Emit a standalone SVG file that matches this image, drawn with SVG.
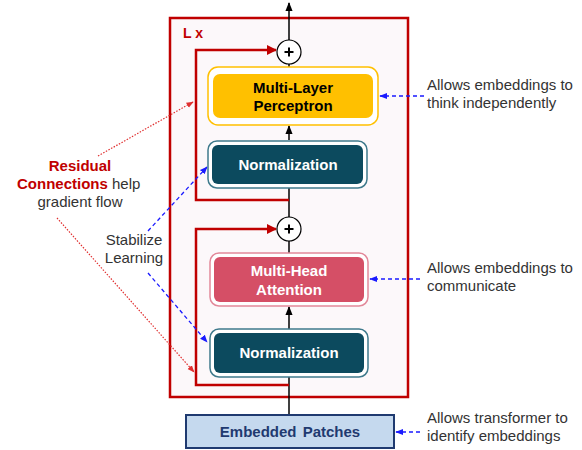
<svg xmlns="http://www.w3.org/2000/svg" width="582" height="450" viewBox="0 0 582 450">
<defs>
<style>
.lbl{font-family:"Liberation Sans",Arial,sans-serif;font-size:15px;}
.b{font-weight:bold;text-anchor:middle;}
.desc{fill:#333333;}
.flow{stroke:#000;stroke-width:1.5;fill:none;}
.res{stroke:#c00000;stroke-width:2.5;fill:none;}
.blue{stroke:#1a1aff;stroke-width:1.3;stroke-dasharray:4 3;fill:none;}
.reddot{stroke:#e03030;stroke-width:1.2;stroke-dasharray:1.5 1.5;fill:none;}
</style>
<marker id="ab" viewBox="0 0 10 10" refX="9" refY="5" markerWidth="6" markerHeight="6" orient="auto"><path d="M0,1 L10,5 L0,9 z" fill="#000"/></marker>
<marker id="ar" viewBox="0 0 10 10" refX="9" refY="5" markerWidth="4" markerHeight="4" orient="auto"><path d="M0,0 L10,5 L0,10 z" fill="#c00000"/></marker>
<marker id="abl" viewBox="0 0 10 10" refX="9" refY="5" markerWidth="6" markerHeight="6" orient="auto"><path d="M0,1 L10,5 L0,9 z" fill="#1a1aff"/></marker>
<marker id="ard" viewBox="0 0 10 10" refX="9" refY="5" markerWidth="6" markerHeight="6" orient="auto"><path d="M0,1 L10,5 L0,9 z" fill="#e03030"/></marker>
</defs>

<g id="block">
<rect x="170" y="18" width="238" height="379" fill="#fcf8fa" stroke="#c00000" stroke-width="2.5"/>
<text x="183" y="38" class="lbl" style="font-weight:bold;fill:#c00000;font-size:14px">L x</text>
</g>

<g id="connectors">
<line x1="289" y1="415" x2="289" y2="377" class="flow"/>
<line x1="289" y1="329" x2="289" y2="307" class="flow" marker-end="url(#ab)"/>
<line x1="289" y1="253" x2="289" y2="241" class="flow"/>
<line x1="289" y1="217" x2="289" y2="188" class="flow"/>
<line x1="289" y1="140" x2="289" y2="126" class="flow" marker-end="url(#ab)"/>
<line x1="289" y1="67" x2="289" y2="64" class="flow"/>
<line x1="289" y1="40" x2="289" y2="3" class="flow" marker-end="url(#ab)"/>
<path d="M289,200 H196 V50 H276" class="res" marker-end="url(#ar)"/>
<path d="M289,385 H196 V229 H276" class="res" marker-end="url(#ar)"/>
<line x1="424" y1="96" x2="380" y2="96" class="blue" marker-end="url(#abl)"/>
<line x1="420" y1="279" x2="370" y2="279" class="blue" marker-end="url(#abl)"/>
<line x1="420" y1="432" x2="396" y2="432" class="blue" marker-end="url(#abl)"/>
<line x1="148" y1="231" x2="207" y2="167" class="blue" marker-end="url(#abl)"/>
<line x1="148" y1="273" x2="207" y2="342" class="blue" marker-end="url(#abl)"/>
<line x1="98" y1="156" x2="193" y2="102" class="reddot" marker-end="url(#ard)"/>
<line x1="57" y1="218" x2="194" y2="372" class="reddot" marker-end="url(#ard)"/>
</g>

<g id="add1">
<circle cx="289" cy="52" r="12" fill="#fff" stroke="#000" stroke-width="1.2"/>
<path d="M284.5,52 H293.5 M289,47.5 V56.5" stroke="#000" stroke-width="2"/>
</g>
<g id="add2">
<circle cx="289" cy="229" r="12" fill="#fff" stroke="#000" stroke-width="1.2"/>
<path d="M284.5,229 H293.5 M289,224.5 V233.5" stroke="#000" stroke-width="2"/>
</g>

<g id="mlp">
<rect x="208" y="67" width="170" height="58" rx="10" fill="#fff" stroke="#ffc000" stroke-width="1.5"/>
<rect x="213" y="74" width="160" height="44" rx="7" fill="#ffc000"/>
<text x="293" y="93" class="lbl b" fill="#000">Multi-Layer</text>
<text x="293" y="111" class="lbl b" fill="#000">Perceptron</text>
</g>

<g id="norm1">
<rect x="208" y="141" width="159" height="47" rx="9" fill="#fff" stroke="#3f7a8c" stroke-width="1.5"/>
<rect x="212" y="145" width="151" height="39" rx="6" fill="#0c4a5e"/>
<text x="288" y="170" class="lbl b" fill="#fff">Normalization</text>
</g>

<g id="mha">
<rect x="210" y="253" width="158" height="53" rx="9" fill="#fff" stroke="#e2899a" stroke-width="1.5"/>
<rect x="214" y="257" width="150" height="45" rx="6" fill="#d54f66"/>
<text x="289" y="276" class="lbl b" fill="#fff">Multi-Head</text>
<text x="289" y="295" class="lbl b" fill="#fff">Attention</text>
</g>

<g id="norm2">
<rect x="210" y="329" width="158" height="48" rx="9" fill="#fff" stroke="#3f7a8c" stroke-width="1.5"/>
<rect x="214" y="333" width="150" height="40" rx="6" fill="#0c4a5e"/>
<text x="289" y="358" class="lbl b" fill="#fff">Normalization</text>
</g>

<g id="embed">
<rect x="186" y="415" width="208" height="33" fill="#c5d9ee" stroke="#1f3a70" stroke-width="2"/>
<text x="290" y="437" class="lbl b" fill="#1f3a70" style="word-spacing:2px">Embedded Patches</text>
</g>

<g id="notes">
<text x="427" y="90" class="lbl desc">Allows embeddings to</text>
<text x="427" y="108" class="lbl desc">think independently</text>
<text x="427" y="273" class="lbl desc">Allows embeddings to</text>
<text x="427" y="291" class="lbl desc">communicate</text>
<text x="427" y="423" class="lbl desc">Allows transformer to</text>
<text x="427" y="441" class="lbl desc">identify embeddings</text>
<text x="80" y="171" class="lbl b" fill="#c00000">Residual</text>
<text x="17" y="189" class="lbl"><tspan style="font-weight:bold;fill:#c00000">Connections</tspan><tspan class="desc"> help</tspan></text>
<text x="80" y="207" class="lbl desc" text-anchor="middle">gradient flow</text>
<text x="134" y="245" class="lbl desc" text-anchor="middle">Stabilize</text>
<text x="134" y="263" class="lbl desc" text-anchor="middle">Learning</text>
</g>
</svg>
